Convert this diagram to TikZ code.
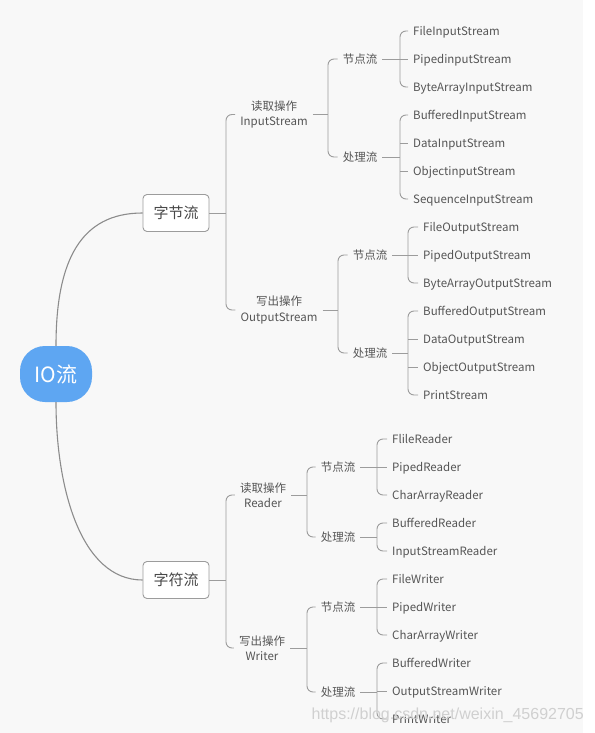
\documentclass[tikz,border=0pt]{standalone}
\usepackage{fontspec}
\setmainfont{Noto Sans CJK SC}
\newfontfamily\wmfont{Liberation Sans}
\definecolor{bgc}{HTML}{F8F8F8}
\definecolor{lc}{HTML}{9C9C9C}
\definecolor{txc}{HTML}{555555}
\definecolor{rootc}{RGB}{94,166,242}
\definecolor{wmc}{RGB}{208,208,208}
\newcommand\mmbr[4]{%
  \draw[conn] (#1.east) -- (#2 |- #1.east);
  \draw[conn,rounded corners=6pt] (#3.west) -| (#2 |- #4.west) -- (#4.west);
}
\begin{document}
\begin{tikzpicture}[x=1pt,y=-1pt,
  conn/.style={draw=lc,line width=0.9pt},
  leaf/.style={font=\fontsize{11.5}{14}\selectfont,text=txc,inner xsep=5pt,inner ysep=0pt,text height=8.5pt,text depth=0pt,anchor=west},
  midn/.style={font=\fontsize{11.5}{14}\selectfont,text=txc,inner xsep=5pt,inner ysep=0pt,text height=8.5pt,text depth=0pt},
  opn/.style={font=\fontsize{11.5}{15.5}\selectfont,text=txc,inner xsep=5pt,inner ysep=1pt,align=center},
  cat/.style={draw=lc,line width=0.9pt,fill=white,rounded corners=4pt,minimum width=66pt,minimum height=37pt,font=\fontsize{15}{18}\selectfont,text=txc!85!black},
  rootn/.style={fill=rootc,rounded corners=25pt,minimum width=72pt,minimum height=56pt,font=\fontsize{21}{24}\selectfont,text=white,inner sep=0pt}
]
\useasboundingbox (0,0) rectangle (594,733);
\fill[white] (0,0) rectangle (594,733);
\fill[bgc] (0,0) rectangle (583,733);

% coordinates of bracket columns
\coordinate (b0) at (226,0);
\coordinate (bA1) at (328,0);
\coordinate (bA1c) at (400,0);
\coordinate (bA2) at (338,0);
\coordinate (bA2c) at (408,0);
\coordinate (bB) at (307,0);
\coordinate (bBc) at (377,0);

% root and categories
\node[rootn] (io) at (56,374) {IO流};
\node[cat] (A) at (176,213) {字节流};
\node[cat] (B) at (176,580) {字符流};

% operation labels
\node[opn] (ain) at (274,114.5) {读取操作\\InputStream};
\node[opn] (aout) at (279,310) {写出操作\\OutputStream};
\node[opn] (bin) at (263,495) {读取操作\\Reader};
\node[opn] (bout) at (262,648) {写出操作\\Writer};

% node/processing stream labels
\node[midn] (ain1) at (360,59) {节点流};
\node[midn] (ain2) at (360,157) {处理流};
\node[midn] (aout1) at (370,255) {节点流};
\node[midn] (aout2) at (370,353) {处理流};
\node[midn] (bin1) at (338,467) {节点流};
\node[midn] (bin2) at (338,537) {处理流};
\node[midn] (bout1) at (338,607) {节点流};
\node[midn] (bout2) at (338,692) {处理流};

% leaves
\node[leaf] (l1) at (408,31) {FileInputStream};
\node[leaf] (l2) at (408,59) {PipedinputStream};
\node[leaf] (l3) at (408,87) {ByteArrayInputStream};
\node[leaf] (l4) at (408,115) {BufferedInputStream};
\node[leaf] (l5) at (408,143) {DataInputStream};
\node[leaf] (l6) at (408,171) {ObjectinputStream};
\node[leaf] (l7) at (408,199) {SequenceInputStream};

\node[leaf] (m1) at (418,227) {FileOutputStream};
\node[leaf] (m2) at (418,255) {PipedOutputStream};
\node[leaf] (m3) at (418,283) {ByteArrayOutputStream};
\node[leaf] (m4) at (418,311) {BufferedOutputStream};
\node[leaf] (m5) at (418,339) {DataOutputStream};
\node[leaf] (m6) at (418,367) {ObjectOutputStream};
\node[leaf] (m7) at (418,395) {PrintStream};

\node[leaf] (r1) at (387,439) {FlileReader};
\node[leaf] (r2) at (387,467) {PipedReader};
\node[leaf] (r3) at (387,495) {CharArrayReader};
\node[leaf] (r4) at (387,523) {BufferedReader};
\node[leaf] (r5) at (387,551) {InputStreamReader};

\node[leaf] (w1) at (387,579) {FileWriter};
\node[leaf] (w2) at (387,607) {PipedWriter};
\node[leaf] (w3) at (387,635) {CharArrayWriter};
\node[leaf] (w4) at (387,663) {BufferedWriter};
\node[leaf] (w5) at (387,691) {OutputStreamWriter};
\node[leaf] (w6) at (387,719) {PrintWriter};

% root curves
\draw[conn,line width=1.1pt,draw=lc!90!black] (io.north) .. controls +(0,-85) and +(-62,0) .. (A.west);
\draw[conn,line width=1.1pt,draw=lc!90!black] (io.south) .. controls +(0,85) and +(-62,0) .. (B.west);

% brackets
\mmbr{A}{b0}{ain}{aout}
\mmbr{B}{b0}{bin}{bout}

\mmbr{ain}{bA1}{ain1}{ain2}
\mmbr{aout}{bA2}{aout1}{aout2}
\mmbr{bin}{bB}{bin1}{bin2}
\mmbr{bout}{bB}{bout1}{bout2}

\mmbr{ain1}{bA1c}{l1}{l3}
\mmbr{ain2}{bA1c}{l4}{l7}
\mmbr{aout1}{bA2c}{m1}{m3}
\mmbr{aout2}{bA2c}{m4}{m7}
\mmbr{bin1}{bBc}{r1}{r3}
\mmbr{bin2}{bBc}{r4}{r5}
\mmbr{bout1}{bBc}{w1}{w3}
\mmbr{bout2}{bBc}{w4}{w6}

% middle ticks
\foreach \c in {l2,l5,l6} \draw[conn] (bA1c |- \c.west) -- (\c.west);
\foreach \c in {m2,m5,m6} \draw[conn] (bA2c |- \c.west) -- (\c.west);
\foreach \c in {r2,w2,w5} \draw[conn] (bBc |- \c.west) -- (\c.west);

% watermark
\node[font=\wmfont\fontsize{16}{18}\selectfont,text=wmc,inner sep=0pt,anchor=east] (wm) at (584,715) {https://blog.csdn.net/weixin\_45692705};
\end{tikzpicture}
\end{document}
